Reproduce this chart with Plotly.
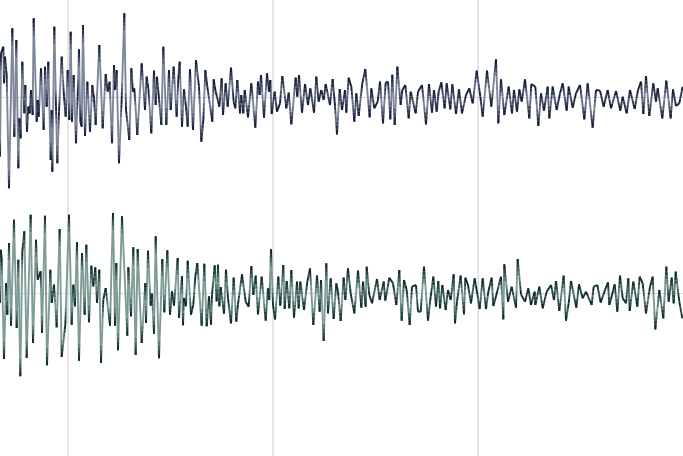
import plotly.graph_objects as go

# Readings (time, level) of the two traces, three stretches each
upper_a = [(0,470),(3,160),(10,140),(12,250),(15,170),(20,225),(27,565),(37,85),(43,410),(49,120),(55,505),(58,355),(62,415),(67,185),(73,340),(76,255),(81,395),(85,320),(89,340),(93,270),(98,345),(101,55),(110,365),(113,300),(116,350),(123,205),(131,390),(135,200),(140,320),(145,185),(152,480),(155,330),(157,515),(163,80),(168,320),(172,490),(177,335),(185,170),(192,290),(197,350),(203,210),(208,360),(212,95),(216,365),(221,225),(228,430),(233,290),(237,148),(241,365),(245,380),(249,75),(255,408),(262,245),(270,395),(277,255),(282,295),(287,375),(298,135),(308,385),(317,222),(323,275),(329,245),(336,430),(342,195),(345,270),(350,210),(357,490),(365,300),(373,40),(378,330),(388,420),(394,205),(399,275),(403,265),(412,405),(425,190),(435,330),(440,230),(445,265),(454,400),(462,212),(467,315),(471,230),(476,285),(484,375),(490,140),(499,375),(507,210),(512,330),(521,200),(530,350),(535,235),(539,185),(546,380),(552,268),(558,320),(563,380),(570,208),(579,390),(588,180),(597,260),(604,425),(610,360),(616,210),(622,260),(637,365),(641,238),(647,275),(658,320),(665,235),(669,345),(677,250),(683,320)]
upper_b = [(9,83),(17,185),(22,205),(28,120),(36,220),(40,165),(46,220),(50,150),(60,232),(70,130),(82,263),(90,125),(95,165),(99,105),(108,233),(117,100),(123,155),(127,120),(131,222),(140,155),(147,215),(156,190),(163,108),(175,205),(182,158),(190,253),(203,113),(208,170),(213,105),(222,218),(231,132),(240,195),(247,145),(258,218),(265,110),(272,185),(280,150),(287,180),(293,132),(306,195),(314,117),(320,185),(327,283),(335,147),(342,210),(351,150),(355,218),(362,113),(370,140),(379,245),(385,160),(392,228),(403,130),(412,87),(425,232),(430,145),(439,205),(449,185),(456,125),(465,250),(473,128),(480,125),(487,238),(493,104),(500,255),(508,80),(518,195),(523,150),(532,135),(542,235),(548,155),(563,220),(570,155),(582,135),(594,253),(603,132),(612,218),(618,150),(626,215),(632,155),(640,127),(650,205),(656,130),(667,208),(673,133)]
upper_c = [(0,222),(9,148),(18,220),(30,165),(40,145),(50,190),(62,92),(73,170),(80,230),(93,92),(106,200),(120,58),(127,250),(135,118),(145,225),(158,140),(168,220),(174,150),(183,215),(190,148),(197,185),(207,118),(220,235),(226,132),(238,140),(247,258),(255,160),(264,212),(275,140),(280,235),(290,140),(302,210),(312,160),(320,130),(332,212),(338,140),(350,203),(360,160),(372,135),(385,238),(395,130),(410,263),(420,150),(432,152),(443,200),(455,150),(465,205),(480,153),(493,212),(500,170),(512,220),(522,150),(536,207),(546,150),(555,125),(562,222),(570,108),(580,228),(592,130),(600,185),(605,145),(619,235),(631,122),(644,235),(651,148),(660,198),(670,190),(680,140)]
lower_a = [(0,310),(2,150),(5,175),(12,478),(18,250),(22,345),(27,130),(33,378),(42,60),(50,385),(55,180),(61,530),(67,155),(73,95),(80,475),(92,45),(99,430),(108,120),(113,240),(122,215),(126,400),(135,48),(141,497),(151,210),(155,310),(162,255),(170,383),(179,88),(185,472),(196,375),(207,45),(215,375),(220,255),(225,320),(231,128),(237,483),(246,160),(254,345),(259,135),(267,368),(274,198),(280,260),(286,203),(291,310),(298,210),(303,490),(310,300),(317,265),(330,378),(339,40),(345,378),(349,190),(354,452),(366,50),(382,408),(385,203),(393,350),(400,143),(407,466),(413,148),(425,430),(436,250),(438,370),(444,153),(452,318),(456,282),(462,402),(467,110),(477,476),(487,178),(493,338),(502,152),(510,345),(516,275),(522,318),(533,175),(537,355),(546,230),(549,377),(552,295),(558,320),(563,183),(573,345),(580,315),(586,230),(592,190),(605,378),(613,192),(620,380),(627,290),(633,375),(636,285),(644,197),(650,305),(654,195),(658,320),(662,262),(672,342),(678,210)]
lower_b = [(0,190),(9,265),(17,128),(25,260),(30,208),(42,118),(53,200),(62,215),(70,93),(76,180),(83,122),(90,238),(101,125),(113,257),(120,160),(124,195),(129,43),(135,210),(141,253),(151,125),(157,212),(166,90),(170,222),(176,138),(184,220),(190,105),(198,248),(207,140),(212,220),(217,140),(228,225),(238,140),(246,100),(256,270),(267,122),(275,230),(279,135),(287,318),(295,85),(300,235),(308,130),(317,252),(325,145),(330,170),(338,258),(347,128),(352,195),(360,100),(368,175),(379,235),(390,107),(400,218),(405,140),(413,215),(416,95),(424,180),(432,205),(447,132),(455,195),(467,140),(472,197),(484,128),(495,145),(505,210),(514,105),(521,257),(528,135),(536,165),(545,270),(552,155),(564,150),(570,230),(578,230),(588,95),(600,257),(608,185),(616,125),(624,215),(631,138),(636,220),(643,150),(653,225),(660,165),(668,195),(677,118),(681,265)]
lower_c = [(3,200),(14,122),(24,238),(28,128),(36,150),(45,205),(56,130),(62,165),(71,222),(80,130),(90,222),(97,170),(107,128),(112,213),(121,180),(135,125),(142,253),(145,88),(156,200),(167,155),(180,218),(185,72),(195,178),(207,200),(217,160),(225,210),(236,170),(238,210),(250,155),(260,220),(272,170),(285,150),(294,195),(300,138),(310,228),(323,122),(330,257),(338,205),(345,138),(361,218),(369,148),(380,190),(390,170),(407,210),(413,155),(424,150),(434,203),(447,165),(456,142),(460,210),(468,180),(476,148),(484,230),(492,122),(500,190),(510,205),(517,130),(521,228),(532,140),(544,215),(551,125),(560,145),(570,235),(582,155),(590,125),(598,283),(610,165),(622,250),(631,95),(638,200),(647,128),(653,205),(659,110),(670,200),(679,250)]
grid_times = [204, 819, 1434]

def series(stretches):
    out_t, out_v = [], []
    for start, mid, rows in stretches:
        for t, level in rows:
            out_t.append(start + t)
            out_v.append(mid - level)
    return out_t, out_v

t1, v1 = series([(0, 291, upper_a), (684, 171, upper_b), (1368, 171, upper_c)])
t2, v2 = series([(0, 280, lower_a), (684, 174, lower_b), (1368, 174, lower_c)])

SHADES1 = ["#7d8799", "#616c82", "#465169", "#2c3650", "#182139"]
SHADES2 = ["#7f9b95", "#5f817b", "#42645f", "#274745", "#122e2f"]
CUTS = [14, 26, 38, 52]   # distance from a sample at which the stroke lightens


def shade_index(dist):
    for i, c in enumerate(CUTS):
        if dist < c:
            return 4 - i
    return 0


def gradient_traces(t, v, shades, yaxis):
    bx = [[] for _ in shades]
    by = [[] for _ in shades]
    for k in range(len(t) - 1):
        dv = abs(v[k + 1] - v[k])
        stops = sorted({0.0, 1.0} | {c / dv for c in CUTS if dv and c / dv < 0.5}
                       | {1 - c / dv for c in CUTS if dv and c / dv < 0.5})
        for a, b in zip(stops[:-1], stops[1:]):
            m = (a + b) / 2
            i = shade_index(min(m, 1 - m) * dv)
            bx[i] += [t[k] + a * (t[k + 1] - t[k]), t[k] + b * (t[k + 1] - t[k]), None]
            by[i] += [v[k] + a * (v[k + 1] - v[k]), v[k] + b * (v[k + 1] - v[k]), None]
    return [go.Scatter(x=bx[i], y=by[i], mode="lines", yaxis=yaxis, hoverinfo="skip",
                       showlegend=False, line=dict(color=shades[i], width=1.9))
            for i in range(len(shades))]


fig = go.Figure(gradient_traces(t1, v1, SHADES1, "y") + gradient_traces(t2, v2, SHADES2, "y2"))

hidden = dict(showticklabels=False, ticks="", zeroline=False, showline=False)
fig.update_layout(
    width=683, height=456, autosize=False,
    margin=dict(l=0, r=0, t=0, b=0),
    paper_bgcolor="white", plot_bgcolor="white",
    xaxis=dict(range=[0, 2049], showgrid=False, **hidden),
    yaxis=dict(domain=[1 - 195 / 456, 1], range=[-294, 291], showgrid=True, tickvals=[0],
               gridcolor="rgba(140,140,150,0.30)", gridwidth=1, **hidden),
    yaxis2=dict(domain=[65 / 456, 261 / 456], range=[-294, 294], showgrid=True, tickvals=[0],
                gridcolor="rgba(140,140,150,0.30)", gridwidth=1, **hidden),
    shapes=[dict(type="line", xref="x", yref="paper", x0=g, x1=g, y0=0, y1=1, layer="below",
                 line=dict(color="#e6e6e6", width=2)) for g in grid_times],
)
fig.write_html("out.html", config=dict(displayModeBar=False),
               post_script="document.body.style.margin='0';document.documentElement.style.overflow='hidden';")
